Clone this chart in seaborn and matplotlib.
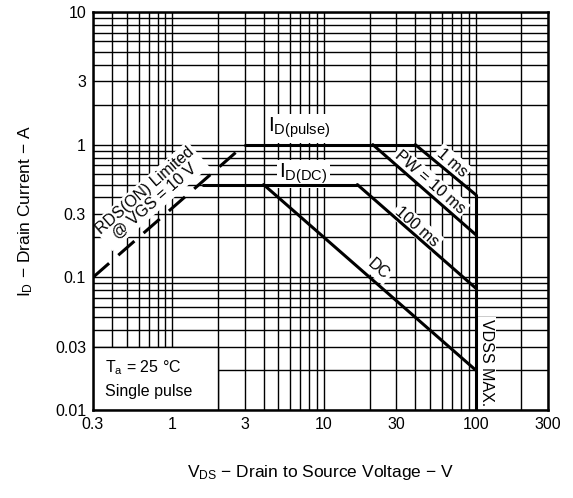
import numpy as np
import pandas as pd
import seaborn as sns
import matplotlib.pyplot as plt
from matplotlib.patches import Rectangle
from matplotlib.ticker import LogLocator, FixedLocator, NullFormatter

# safe operating area segments (V, A)
rds_v = [0.3, 3.0]
rds_i = [0.1, 1.0]
pulse_v = [3.0, 40.0]
pulse_i = [1.0, 1.0]
ms1_v = [40.0, 100.0]
ms1_i = [1.0, 0.42]
ms10_v = [21.0, 100.0]
ms10_i = [1.0, 0.21]
dc_level_v = [1.6, 16.6]
dc_level_i = [0.5, 0.5]
ms100_v = [16.6, 100.0]
ms100_i = [0.5, 0.083]
dc_v = [4.0, 100.0]
dc_i = [0.5, 0.02]
vdss_v = [100.0, 100.0]
vdss_i = [0.01, 0.42]

x_ticks = [0.3, 1, 3, 10, 30, 100, 300]
x_labels = ['0.3', '1', '3', '10', '30', '100', '300']
y_ticks = [0.01, 0.03, 0.1, 0.3, 1, 3, 10]
y_labels = ['0.01', '0.03', '0.1', '0.3', '1', '3', '10']

sns.set_style('white')
plt.rcParams['font.family'] = ['Liberation Sans', 'DejaVu Sans']
plt.rcParams['mathtext.fontset'] = 'custom'
plt.rcParams['mathtext.rm'] = 'Liberation Sans'
plt.rcParams['mathtext.it'] = 'Liberation Sans'
plt.rcParams['text.color'] = 'black'
plt.rcParams['axes.labelcolor'] = 'black'
plt.rcParams['xtick.color'] = 'black'
plt.rcParams['ytick.color'] = 'black'

fig = plt.figure(figsize=(5.73, 4.98), dpi=100)
ax = fig.add_axes([0.1623, 0.1767, 0.7941, 0.7992])
ax.set_xscale('log')
ax.set_yscale('log')
ax.set_xlim(0.3, 300)
ax.set_ylim(0.01, 10)

# log paper grid
ax.xaxis.set_major_locator(FixedLocator(x_ticks))
ax.yaxis.set_major_locator(FixedLocator(y_ticks))
ax.xaxis.set_minor_locator(LogLocator(base=10, subs=np.arange(1, 10)))
ax.yaxis.set_minor_locator(LogLocator(base=10, subs=np.arange(1, 10)))
ax.xaxis.set_minor_formatter(NullFormatter())
ax.yaxis.set_minor_formatter(NullFormatter())
ax.set_xticklabels(x_labels)
ax.set_yticklabels(y_labels)
ax.grid(which='both', color='black', lw=1.0, zorder=0)
ax.set_axisbelow(True)
ax.tick_params(which='both', length=0, labelsize=11.5, pad=5)
for s in ax.spines.values():
    s.set_color('black')
    s.set_linewidth(1.8)

segments = [
    (pulse_v, pulse_i), (ms1_v, ms1_i), (ms10_v, ms10_i),
    (dc_level_v, dc_level_i), (ms100_v, ms100_i), (dc_v, dc_i),
    (vdss_v, vdss_i),
]
for v, i in segments:
    df = pd.DataFrame({'v': v, 'i': i})
    sns.lineplot(data=df, x='v', y='i', ax=ax, color='black', lw=2.2,
                 estimator=None, sort=False, zorder=3)
sns.lineplot(x=rds_v, y=rds_i, ax=ax, color='black', lw=2.2,
             estimator=None, sort=False, zorder=3)
ax.lines[-1].set_dashes([7, 4])

# blank box for the conditions
ax.add_patch(Rectangle((0.3, 0.01), 1.7, 0.02, facecolor='white',
                       edgecolor='black', lw=1.0, zorder=1))
ax.text(0.36, 0.021, 'T$_\\mathrm{a}$ = 25 °C', fontsize=11.5, va='center', zorder=4)
ax.text(0.36, 0.0139, 'Single pulse', fontsize=11.5, va='center', zorder=4)

wb = dict(facecolor='white', edgecolor='none', pad=1.5)
ax.text(0.71, 0.41, 'RDS(ON) Limited\n@ VGS = 10 V', fontsize=11.5, rotation=41,
        ha='center', va='center', rotation_mode='anchor', linespacing=1.0,
        multialignment='center', bbox=wb, zorder=2)
ax.text(6.9, 1.33, 'I$_\\mathrm{D(pulse)}$', fontsize=15, ha='center',
        va='center', bbox=wb, zorder=2)
ax.text(7.3, 0.6, 'I$_\\mathrm{D(DC)}$', fontsize=15, ha='center',
        va='center', bbox=wb, zorder=2)
ax.text(70, 0.73, '1 ms', fontsize=11.5, rotation=-41, ha='center', va='center',
        rotation_mode='anchor', bbox=wb, zorder=2)
ax.text(50, 0.52, 'PW = 10 ms', fontsize=11.5, rotation=-41, ha='center',
        va='center', rotation_mode='anchor', bbox=wb, zorder=2)
ax.text(41, 0.24, '100 ms', fontsize=11.5, rotation=-41, ha='center',
        va='center', rotation_mode='anchor', bbox=wb, zorder=2)
ax.text(23, 0.115, 'DC', fontsize=11.5, rotation=-41, ha='center',
        va='center', rotation_mode='anchor', bbox=wb, zorder=2)
ax.text(118, 0.0226, 'VDSS MAX.', fontsize=11.5, rotation=-90, ha='center',
        va='center', bbox=wb, zorder=2)

ax.set_xlabel('V$_\\mathrm{DS}$ − Drain to Source Voltage − V', fontsize=12.5, labelpad=22)
ax.set_ylabel('I$_\\mathrm{D}$ − Drain Current − A', fontsize=12.5, labelpad=14)

fig.savefig('out.png', dpi=100)
